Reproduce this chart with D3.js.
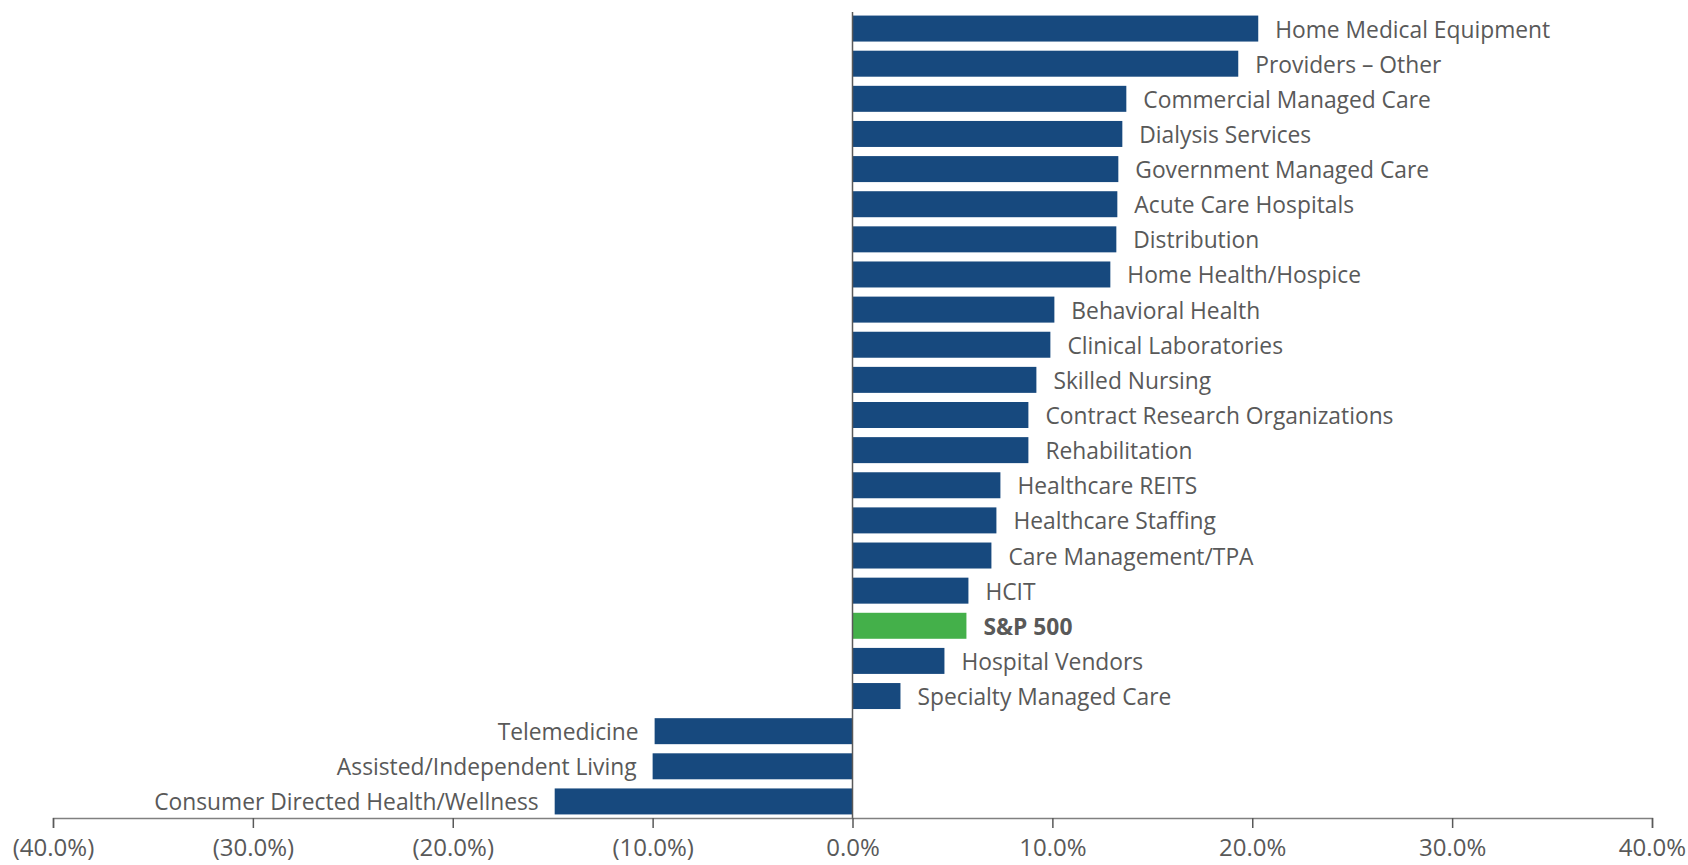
<!DOCTYPE html>
<html>
<head>
<meta charset="utf-8">
<script src="https://cdn.jsdelivr.net/npm/d3@7"></script>
<style>
  html, body { margin: 0; padding: 0; background: #fff; }
  svg text { font-family: "Open Sans", "Lato", sans-serif; fill: #595959; }
</style>
</head>
<body>
<div id="root"></div>
<script>
// ---------------------------- DATA ----------------------------
const categories = [
    "Home Medical Equipment", "Providers \u2013 Other", "Commercial Managed Care", "Dialysis Services",
    "Government Managed Care", "Acute Care Hospitals", "Distribution", "Home Health/Hospice",
    "Behavioral Health", "Clinical Laboratories", "Skilled Nursing", "Contract Research Organizations",
    "Rehabilitation", "Healthcare REITS", "Healthcare Staffing", "Care Management/TPA", "HCIT",
    "S&P 500", "Hospital Vendors", "Specialty Managed Care", "Telemedicine",
    "Assisted/Independent Living", "Consumer Directed Health/Wellness"
];
const returns = [
    20.3, 19.3, 13.7, 13.5, 13.3, 13.25, 13.2, 12.9, 10.1, 9.9, 9.2, 8.8, 8.8,
    7.4, 7.2, 6.95, 5.8, 5.7, 4.6, 2.4, -9.9, -10.0, -14.9
];
const highlight = "S&P 500";
const xTicks = [-40, -30, -20, -10, 0, 10, 20, 30, 40];

// ---------------------------- SETUP ----------------------------
const width = 1688;
const height = 865;
const navy = "#17497e";
const green = "#44b04a";

const svg = d3.select("#root").append("svg")
    .attr("width", width)
    .attr("height", height);

const x = d3.scaleLinear()
    .domain([-40, 40])
    .range([53, 1652]);

const y = d3.scaleBand()
    .domain(categories)
    .range([11, 819])
    .paddingInner(0.26)
    .paddingOuter(0.13);

const data = categories.map((c, i) => ({ name: c, value: returns[i] }));

// bars
svg.append("g")
    .selectAll("rect")
    .data(data)
    .enter()
    .append("rect")
    .attr("x", d => x(Math.min(0, d.value)))
    .attr("y", d => y(d.name))
    .attr("width", d => Math.abs(x(d.value) - x(0)))
    .attr("height", y.bandwidth())
    .style("fill", d => d.name == highlight ? green : navy);

// labels next to bars
svg.append("g")
    .selectAll("text")
    .data(data)
    .enter()
    .append("text")
    .attr("x", d => d.value >= 0 ? x(d.value) + 17 : x(d.value) - 16)
    .attr("y", d => y(d.name) + y.bandwidth() / 2 + 1)
    .attr("dy", "0.35em")
    .attr("text-anchor", d => d.value >= 0 ? "start" : "end")
    .style("font-size", "22.8px")
    .style("font-weight", d => d.name == highlight ? "bold" : "normal")
    .text(d => d.name);

// zero line
svg.append("line")
    .attr("x1", x(0))
    .attr("x2", x(0))
    .attr("y1", 12)
    .attr("y2", 818)
    .style("stroke", "#595959")
    .style("stroke-width", 1.5);

// x axis
const xAxis = d3.axisBottom(x)
    .tickValues(xTicks)
    .tickSize(10)
    .tickPadding(11)
    .tickFormat(d => d < 0 ? "(" + Math.abs(d).toFixed(1) + "%)" : d.toFixed(1) + "%");

const axisG = svg.append("g")
    .attr("transform", "translate(0,818)")
    .call(xAxis);

axisG.select(".domain")
    .style("stroke", "#808080")
    .style("stroke-width", 1.5);
axisG.selectAll(".tick line")
    .style("stroke", "#595959")
    .style("stroke-width", 1.5);
axisG.selectAll(".tick text")
    .style("font-size", "24px")
    .style("font-family", "'Open Sans', Lato, sans-serif")
    .style("fill", "#595959");
</script>
</body>
</html>
